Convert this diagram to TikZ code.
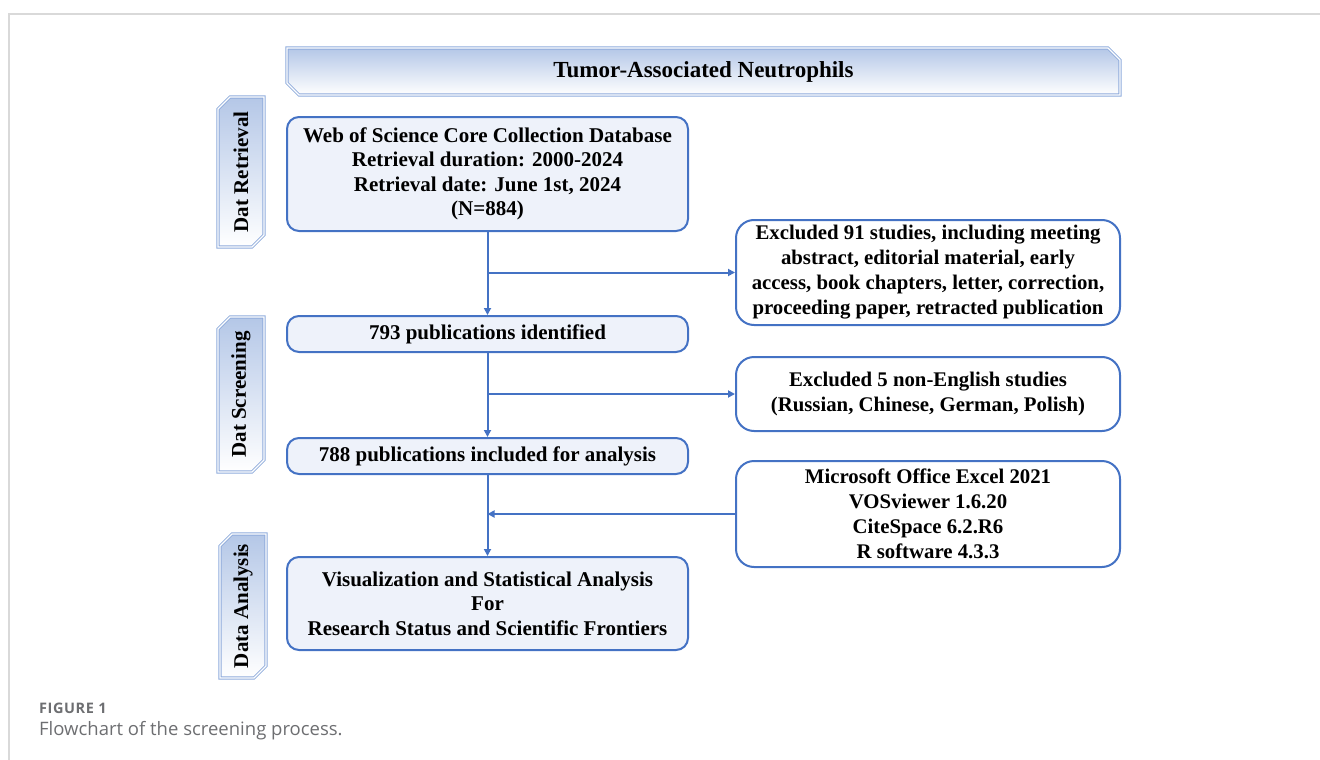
\documentclass[tikz,border=0pt]{standalone}
\usepackage{fontspec}
\setmainfont{Liberation Serif}
\newfontfamily\capfont{Open Sans}
\usetikzlibrary{arrows.meta,shapes.misc}
\definecolor{flowblue}{HTML}{4472C4}
\definecolor{palefill}{HTML}{EEF2FA}
\definecolor{bandblue}{HTML}{8EAADB}
\definecolor{bandtop}{HTML}{B4C7E7}
\definecolor{capgray}{HTML}{6D6E71}
\definecolor{framegray}{HTML}{D9D9D9}
\tikzset{
    band/.style={chamfered rectangle, chamfered rectangle corners={north east,south west},
        chamfered rectangle xsep=6pt, chamfered rectangle ysep=6pt,
        draw=bandblue, line width=0.9pt, double=white, double distance=1.3pt,
        top color=bandtop, bottom color=white, inner sep=0pt,
        font=\bfseries\fontsize{21}{24.5}\selectfont}, % 带斜角的标题框
    sidebox/.style={band, rotate=90, minimum width=150pt, minimum height=46pt}, % 左侧阶段标签
    mainbox/.style={draw=flowblue, line width=2pt, fill=palefill, rounded corners=12pt,
        minimum width=401pt, align=center, inner sep=0pt,
        font=\bfseries\fontsize{21}{24.5}\selectfont}, % 主流程框
    notebox/.style={draw=flowblue, line width=2pt, fill=white, rounded corners=18pt,
        minimum width=384pt, align=center, inner sep=0pt,
        font=\bfseries\fontsize{20.8}{25}\selectfont}, % 右侧说明框
    flow/.style={draw=flowblue, line width=2pt, -{Triangle[length=7pt, width=7pt]}}
}
\begin{document}
\begin{tikzpicture}[x=1pt, y=-1pt]
    \useasboundingbox (0,0) rectangle (1320,760);
    \draw[framegray, line width=1.2pt] (9,760) -- (9,14) -- (1320,14);

    \node[band, minimum width=833pt, minimum height=47pt, font=\bfseries\fontsize{23}{27}\selectfont]
        (title) at (703.5,71.5) {Tumor-Associated Neutrophils};

    \node[sidebox] (retrieval) at (241,172) {Dat Retrieval};
    \node[sidebox, minimum width=155pt] (screening) at (241,394.5) {Dat Screening};
    \node[sidebox, minimum width=144pt] (analysis) at (243,606) {Data Analysis};

    \node[mainbox, minimum height=114pt] (wos) at (487.5,174) {Web of Science Core Collection Database\\
        Retrieval duration: 2000-2024\\ Retrieval date: June 1st, 2024\\ (N=884)};
    \node[mainbox, minimum height=36pt] (ident) at (487.5,334) {793 publications identified};
    \node[mainbox, minimum height=36pt] (incl) at (487.5,456) {788 publications included for analysis};
    \node[mainbox, minimum height=93pt] (visual) at (487.5,603.5) {Visualization and Statistical Analysis\\
        For\\ Research Status and Scientific Frontiers};

    \node[notebox, minimum height=105pt] (excl) at (928,272.5) {Excluded 91 studies, including meeting\\
        abstract, editorial material, early\\ access, book chapters, letter, correction,\\
        proceeding paper, retracted publication};
    \node[notebox, minimum height=74pt] (lang) at (928,394) {Excluded 5 non-English studies\\
        (Russian, Chinese, German, Polish)};
    \node[notebox, minimum height=106pt] (tools) at (928,514) {Microsoft Office Excel 2021\\
        VOSviewer 1.6.20\\ CiteSpace 6.2.R6\\ R software 4.3.3};

    \draw[flow] (wos) -- (ident);
    \draw[flow] (ident) -- (incl);
    \draw[flow] (incl) -- (visual);
    \coordinate (split1) at (wos.south |- excl.west);
    \coordinate (split2) at (ident.south |- lang.west);
    \coordinate (join3) at (incl.south |- tools.west);
    \draw[flow] (split1) -- (excl.west);
    \draw[flow] (split2) -- (lang.west);
    \draw[flow] (tools.west) -- (join3);

    \node[anchor=west, inner sep=0pt, text=capgray,
        font=\capfont\bfseries\fontsize{14.5}{16}\selectfont\addfontfeatures{LetterSpace=4}]
        (fig) at (39,708) {FIGURE 1};
    \node[anchor=west, inner sep=0pt, text=capgray, font=\capfont\fontsize{18.5}{21}\selectfont]
        (cap) at (39,731) {Flowchart of the screening process.};
\end{tikzpicture}
\end{document}
